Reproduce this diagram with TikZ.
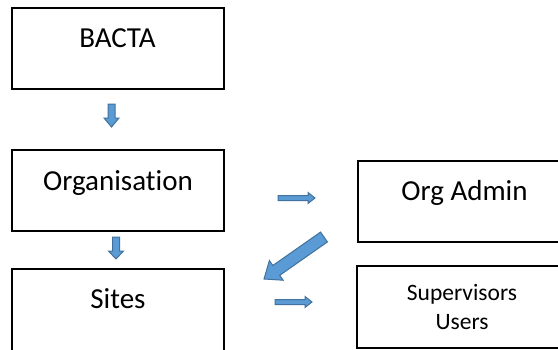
\documentclass[tikz,border=0pt]{standalone}
\usepackage{fontspec}
\setmainfont{Carlito}[Ligatures={NoCommon}]
\usetikzlibrary{calc}
\definecolor{arrowfill}{RGB}{91,155,213}
\definecolor{arrowline}{RGB}{65,113,156}
\tikzset{
  box/.style={draw=black, line width=1.8pt, rectangle, minimum width=212pt, minimum height=81pt, inner sep=0pt},
  bigtext/.style={font=\fontsize{29}{35}\selectfont, inner sep=0pt, anchor=base},
  smalltext/.style={font=\fontsize{23.5}{29}\selectfont, inner sep=0pt, anchor=base},
  blockarrow/.style={fill=arrowfill, draw=arrowline, line width=1pt, line join=miter}
}
% #1 tail, #2 tip, #3 shaft half width, #4 head half width, #5 head length
\newcommand{\myblockarrow}[5]{%
  \coordinate (hb) at ($(#2)!#5!(#1)$);
  \draw[blockarrow] ($(#1)!#3!90:(#2)$) -- ($(hb)!#3!-90:(#1)$) -- ($(hb)!#4!-90:(#1)$) -- (#2)
    -- ($(hb)!#4!90:(#1)$) -- ($(hb)!#3!90:(#1)$) -- ($(#1)!#3!-90:(#2)$) -- cycle;
}
\begin{document}
\begin{tikzpicture}[x=1pt,y=-1pt]
  \useasboundingbox (0,0) rectangle (558,349);
  \clip (0,0) rectangle (558,349);
  % boxes
  \node[box] (bacta) at (118,48.5) {};
  \node[box] (org) at (118,190.5) {};
  \node[box, minimum height=91pt] (sites) at (118,314.5) {};
  \node[box] (orgadmin) at (464,201.5) {};
  \node[box, minimum width=213pt, minimum height=82pt] (sup) at (463.5,307) {};
  % texts
  \node[bigtext] (tbacta) at (117.5,47) {BACTA};
  \node[bigtext] (torg) at (118,190) {Organisation};
  \node[bigtext] (tsites) at (118,308) {Sites};
  \node[bigtext] (torgadmin) at (464.5,200) {Org Admin};
  \node[smalltext] (tsup) at (462,300) {Supervisors};
  \node[smalltext] (tusers) at (462,329) {Users};
  % arrows
  \coordinate (a1s) at (111.5,104);
  \coordinate (a1e) at (111.5,127);
  \myblockarrow{a1s}{a1e}{3.5pt}{7.5pt}{9pt}
  \coordinate (a2s) at (116,237);
  \coordinate (a2e) at (116,259);
  \myblockarrow{a2s}{a2e}{3.5pt}{7.5pt}{8pt}
  \coordinate (a3s) at (278,198);
  \coordinate (a3e) at (315,198);
  \myblockarrow{a3s}{a3e}{2.5pt}{5.5pt}{7pt}
  \coordinate (a4s) at (275,302);
  \coordinate (a4e) at (312,302);
  \myblockarrow{a4s}{a4e}{2.5pt}{5.5pt}{7pt}
  \coordinate (a5s) at (324,237);
  \coordinate (a5e) at (264,279);
  \myblockarrow{a5s}{a5e}{6pt}{12pt}{15pt}
\end{tikzpicture}
\end{document}
